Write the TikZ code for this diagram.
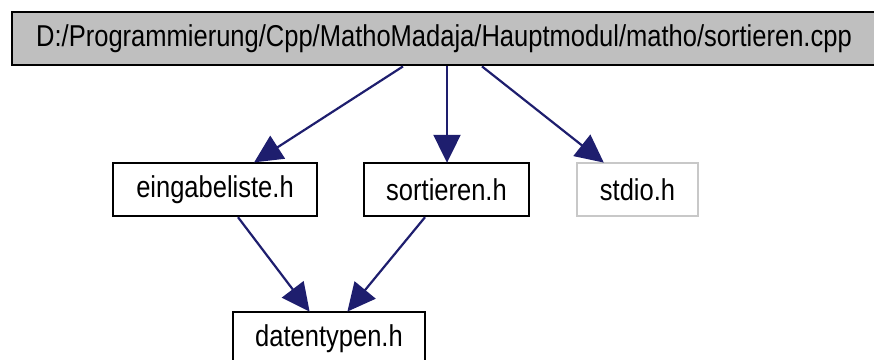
\documentclass[tikz,border=0pt]{standalone}
\usepackage{fontspec}
\setmainfont{Liberation Sans}
\usetikzlibrary{arrows.meta,calc}
\definecolor{edgeblue}{RGB}{30,30,110}
\definecolor{topfill}{RGB}{191,191,191}
\definecolor{lightborder}{RGB}{200,200,200}
\newcommand{\tx}[1]{\scalebox{0.88}[1.04]{#1}}
\tikzset{
  filebox/.style={draw=black, line width=2.4pt, fill=white, minimum height=53pt, inner sep=0pt,
    font=\fontsize{29}{34}\selectfont},
  topbox/.style={filebox, fill=topfill, line width=2.8pt},
  extbox/.style={filebox, draw=lightborder, line width=2pt},
  dep/.style={draw=edgeblue, line width=2.2pt, -{Triangle[length=28pt,width=27pt]}, shorten >=-1pt}
}
\begin{document}
\begin{tikzpicture}[x=1pt,y=-1pt]
\useasboundingbox (0,0) rectangle (874,359);
\clip (0,0) rectangle (874,359);
\node[topbox, minimum width=864pt] (top) at (444,38.5) {\tx{D:/Programmierung/Cpp/MathoMadaja/Hauptmodul/matho/sortieren.cpp}};
\node[filebox, minimum width=204pt] (ein) at (215,189.5) {\tx{eingabeliste.h}};
\node[filebox, minimum width=165pt] (sort) at (446.5,189.5) {\tx{sortieren.h}};
\node[extbox, minimum width=121pt] (stdio) at (637.5,189.5) {\tx{stdio.h}};
\node[filebox, minimum width=192pt] (dat) at (329,338.5) {\tx{datentypen.h}};
\draw[dep] ($(top.south)+(-41,0)$) -- ($(ein.north)+(40,0)$);
\draw[dep] ($(top.south)+(3,0)$) -- ($(sort.north)+(0.5,0)$);
\draw[dep] ($(top.south)+(38,0)$) -- ($(stdio.north)+(-34.5,0)$);
\draw[dep] ($(ein.south)+(23,0)$) -- ($(dat.north)+(-20,0)$);
\draw[dep] ($(sort.south)+(-21.5,0)$) -- ($(dat.north)+(19,0)$);
\end{tikzpicture}
\end{document}
